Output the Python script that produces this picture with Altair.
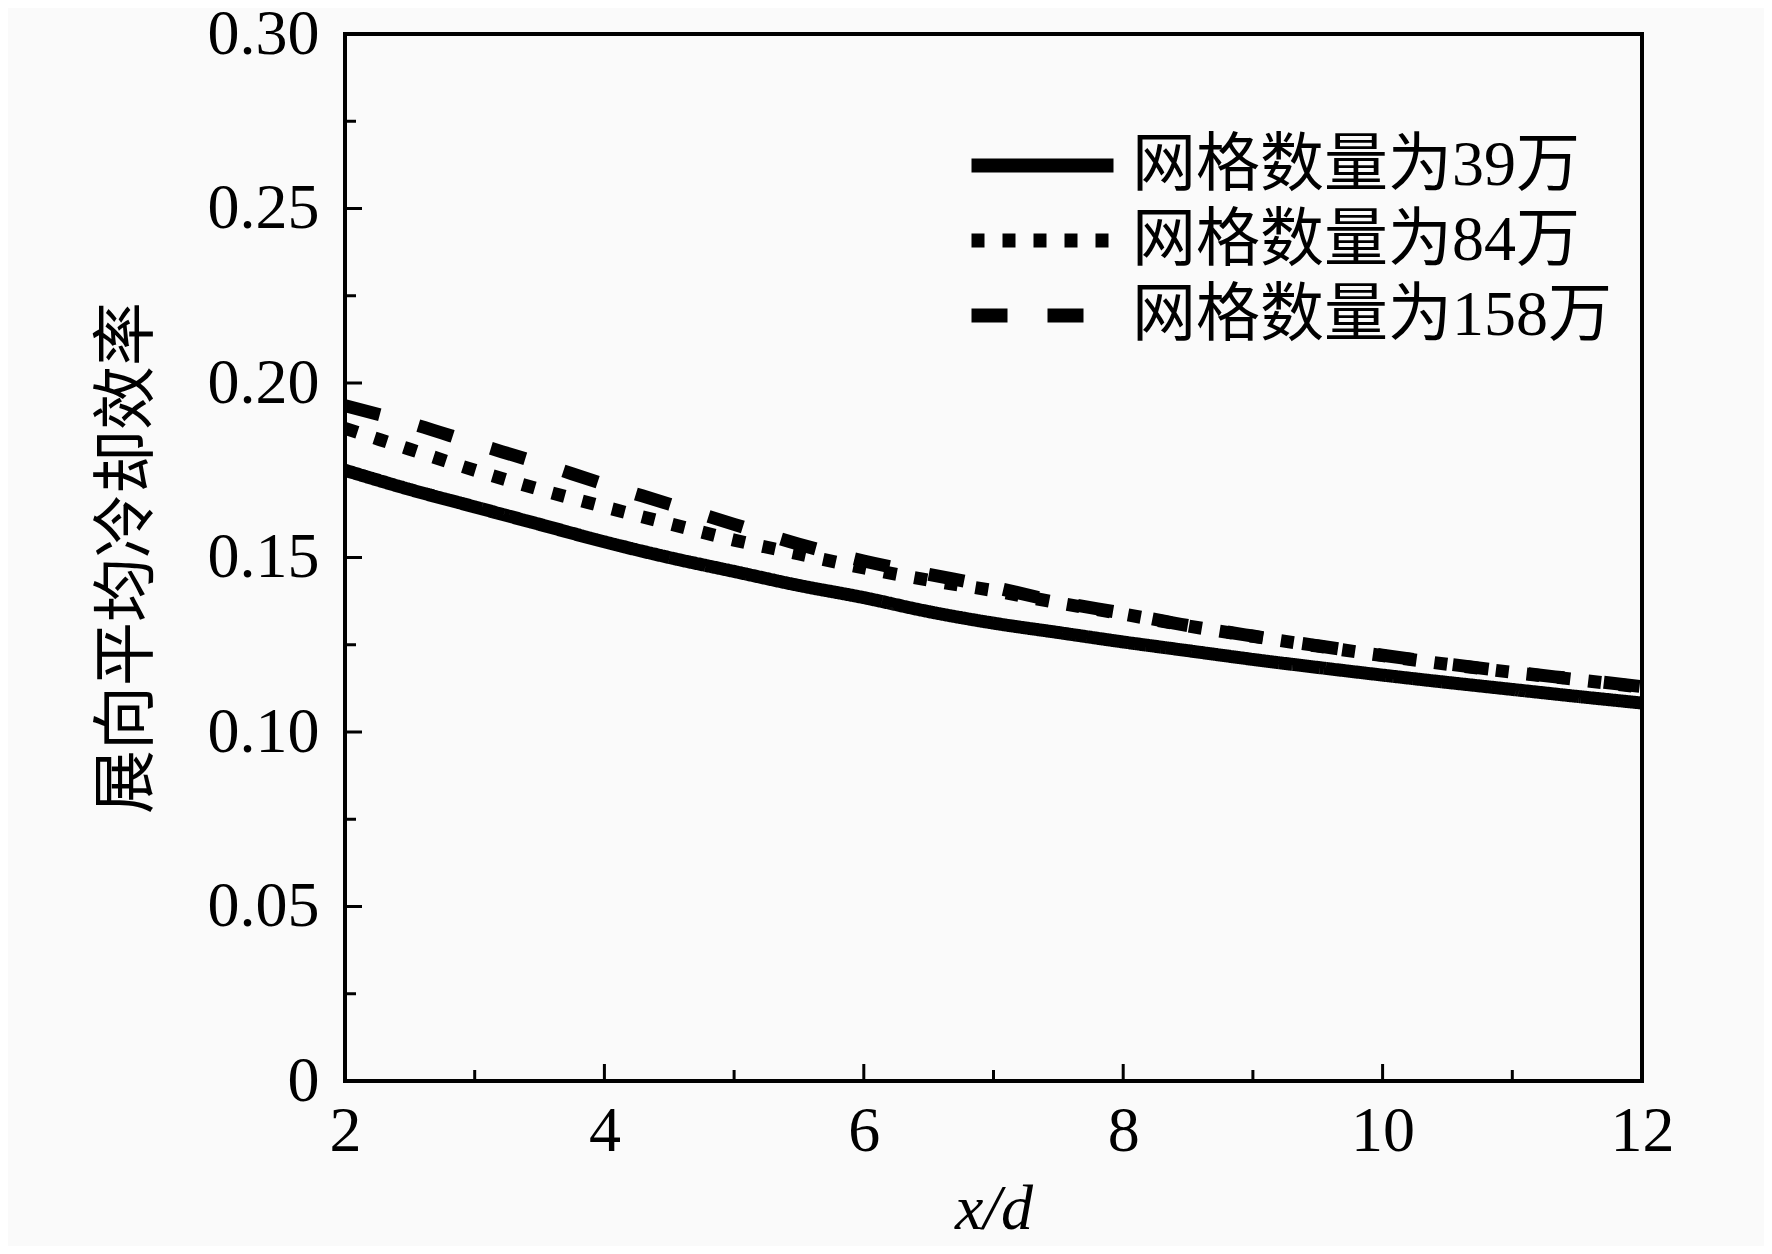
import altair as alt
import pandas as pd

# ---- data ----
x_vals = [2, 2.5, 3, 3.5, 4, 4.5, 5, 5.5, 6, 6.5, 7, 7.5, 8, 8.5, 9, 9.5, 10, 10.5, 11, 11.5, 12]
eta_39 = [0.175, 0.1695, 0.1645, 0.1595, 0.1545, 0.150, 0.146, 0.142, 0.1385, 0.1345, 0.1312,
          0.1285, 0.1258, 0.1233, 0.1208, 0.1185, 0.1163, 0.1142, 0.1122, 0.1102, 0.1083]
eta_84 = [0.187, 0.181, 0.175, 0.1695, 0.1645, 0.1597, 0.155, 0.151, 0.147, 0.1435, 0.1405,
          0.137, 0.1338, 0.1304, 0.1274, 0.1246, 0.1219, 0.1194, 0.1171, 0.115, 0.1128]
eta_158 = [0.1935, 0.1885, 0.1827, 0.177, 0.171, 0.1653, 0.1595, 0.1538, 0.149, 0.1452, 0.1415,
           0.1373, 0.134, 0.1305, 0.1275, 0.1247, 0.122, 0.1195, 0.1172, 0.1151, 0.113]
series_names = ["网格数量为39万", "网格数量为84万", "网格数量为158万"]

x_major = [2, 4, 6, 8, 10, 12]
x_minor = [3, 5, 7, 9, 11]
y_major = [0, 0.05, 0.10, 0.15, 0.20, 0.25, 0.30]
y_minor = [0.025, 0.075, 0.125, 0.175, 0.225, 0.275]

rows = []
for name, vals in zip(series_names, [eta_39, eta_84, eta_158]):
    for xv, v in zip(x_vals, vals):
        rows.append({"x": xv, "eta": v, "series": name})
df = pd.DataFrame(rows)

W, H = 1297, 1047
FONT = "Liberation Serif, Times New Roman, Noto Sans CJK SC"

xscale = alt.Scale(domain=[2, 12], nice=False, zero=False)
yscale = alt.Scale(domain=[0, 0.30], nice=False)

lines = alt.Chart(df).mark_line(color="black", strokeWidth=13, interpolate="monotone").encode(
    x=alt.X("x:Q", scale=xscale,
            axis=alt.Axis(title="x/d", values=x_major, format="d", ticks=False, domain=False, grid=False,
                          labelFlush=False,
                          labelFont=FONT, labelFontSize=64, labelColor="black", labelPadding=18,
                          titleFont=FONT, titleFontSize=64, titleFontStyle="italic",
                          titleFontWeight="normal", titleColor="black", titlePadding=14)),
    y=alt.Y("eta:Q", scale=yscale,
            axis=alt.Axis(title="展向平均冷却效率", values=y_major, ticks=False, domain=False, grid=False,
                          labelFlush=False,
                          labelExpr="datum.value == 0 ? '0' : format(datum.value, '.2f')",
                          labelFont=FONT, labelFontSize=64, labelColor="black", labelPadding=26,
                          titleFont=FONT, titleFontSize=64, titleFontWeight="normal",
                          titleColor="black", titlePadding=48)),
    strokeDash=alt.StrokeDash(
        "series:N",
        scale=alt.Scale(domain=series_names, range=[[1, 0], [13, 18], [36, 40]]),
        legend=alt.Legend(title=None, orient="none", legendX=655, legendY=89,
                          symbolType="M-2,0H2", symbolSize=5041, symbolStrokeWidth=14,
                          symbolStrokeColor="black", symbolFillColor="transparent",
                          labelFont=FONT, labelFontSize=64,
                          labelColor="black", labelOffset=47, labelLimit=1000,
                          rowPadding=0, padding=0)),
)

xt_major = alt.Chart(pd.DataFrame({"t": x_major})).mark_rule(color="black", strokeWidth=3).encode(
    x=alt.X("t:Q", scale=xscale), y=alt.value(H), y2=alt.value(H - 17))
xt_minor = alt.Chart(pd.DataFrame({"t": x_minor})).mark_rule(color="black", strokeWidth=3).encode(
    x=alt.X("t:Q", scale=xscale), y=alt.value(H), y2=alt.value(H - 11))
yt_major = alt.Chart(pd.DataFrame({"t": y_major})).mark_rule(color="black", strokeWidth=3).encode(
    y=alt.Y("t:Q", scale=yscale), x=alt.value(0), x2=alt.value(17))
yt_minor = alt.Chart(pd.DataFrame({"t": y_minor})).mark_rule(color="black", strokeWidth=3).encode(
    y=alt.Y("t:Q", scale=yscale), x=alt.value(0), x2=alt.value(11))

chart = alt.layer(lines, xt_major, xt_minor, yt_major, yt_minor).properties(
    width=W, height=H,
    autosize=alt.AutoSizeParams(type="none"),
    padding={"left": 337, "top": 26, "right": 122, "bottom": 165},
    background="#fafafa",
).configure_view(stroke="black", strokeWidth=4)

chart.save("out.html", embed_options={"renderer": "svg", "actions": False})
